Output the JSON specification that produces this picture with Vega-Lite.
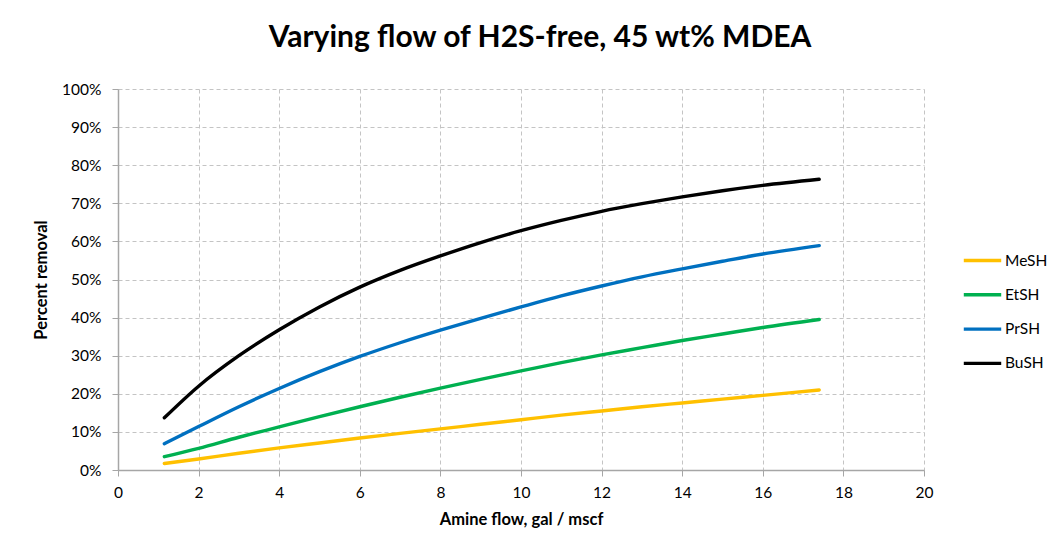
{
  "$schema": "https://vega.github.io/schema/vega-lite/v6.json",
  "autosize": "none",
  "width": 806,
  "height": 381,
  "padding": {"left": 118, "top": 89, "right": 132, "bottom": 83},
  "background": "white",
  "title": {
    "text": "Varying flow of H2S-free, 45 wt% MDEA",
    "font": "Lato",
    "fontSize": 30,
    "fontWeight": "bold",
    "color": "#000000",
    "anchor": "middle",
    "dx": 19,
    "offset": 29
  },
  "config": {
    "view": {"stroke": null},
    "font": "Lato"
  },
  "data": {
    "values": [
      {"flow": 1.15, "removal": 0.017, "compound": "MeSH"},
      {"flow": 2, "removal": 0.029, "compound": "MeSH"},
      {"flow": 3, "removal": 0.044, "compound": "MeSH"},
      {"flow": 4, "removal": 0.058, "compound": "MeSH"},
      {"flow": 5, "removal": 0.071, "compound": "MeSH"},
      {"flow": 6, "removal": 0.084, "compound": "MeSH"},
      {"flow": 7, "removal": 0.096, "compound": "MeSH"},
      {"flow": 8, "removal": 0.108, "compound": "MeSH"},
      {"flow": 9, "removal": 0.120, "compound": "MeSH"},
      {"flow": 10, "removal": 0.132, "compound": "MeSH"},
      {"flow": 11, "removal": 0.144, "compound": "MeSH"},
      {"flow": 12, "removal": 0.155, "compound": "MeSH"},
      {"flow": 13, "removal": 0.166, "compound": "MeSH"},
      {"flow": 14, "removal": 0.176, "compound": "MeSH"},
      {"flow": 15, "removal": 0.186, "compound": "MeSH"},
      {"flow": 16, "removal": 0.196, "compound": "MeSH"},
      {"flow": 17.4, "removal": 0.210, "compound": "MeSH"},
      {"flow": 1.15, "removal": 0.035, "compound": "EtSH"},
      {"flow": 2, "removal": 0.057, "compound": "EtSH"},
      {"flow": 3, "removal": 0.086, "compound": "EtSH"},
      {"flow": 4, "removal": 0.113, "compound": "EtSH"},
      {"flow": 5, "removal": 0.140, "compound": "EtSH"},
      {"flow": 6, "removal": 0.166, "compound": "EtSH"},
      {"flow": 7, "removal": 0.191, "compound": "EtSH"},
      {"flow": 8, "removal": 0.215, "compound": "EtSH"},
      {"flow": 9, "removal": 0.238, "compound": "EtSH"},
      {"flow": 10, "removal": 0.260, "compound": "EtSH"},
      {"flow": 11, "removal": 0.282, "compound": "EtSH"},
      {"flow": 12, "removal": 0.302, "compound": "EtSH"},
      {"flow": 13, "removal": 0.321, "compound": "EtSH"},
      {"flow": 14, "removal": 0.340, "compound": "EtSH"},
      {"flow": 15, "removal": 0.357, "compound": "EtSH"},
      {"flow": 16, "removal": 0.374, "compound": "EtSH"},
      {"flow": 17.4, "removal": 0.395, "compound": "EtSH"},
      {"flow": 1.15, "removal": 0.069, "compound": "PrSH"},
      {"flow": 2, "removal": 0.114, "compound": "PrSH"},
      {"flow": 3, "removal": 0.166, "compound": "PrSH"},
      {"flow": 4, "removal": 0.214, "compound": "PrSH"},
      {"flow": 5, "removal": 0.258, "compound": "PrSH"},
      {"flow": 6, "removal": 0.298, "compound": "PrSH"},
      {"flow": 7, "removal": 0.334, "compound": "PrSH"},
      {"flow": 8, "removal": 0.367, "compound": "PrSH"},
      {"flow": 9, "removal": 0.398, "compound": "PrSH"},
      {"flow": 10, "removal": 0.428, "compound": "PrSH"},
      {"flow": 11, "removal": 0.457, "compound": "PrSH"},
      {"flow": 12, "removal": 0.483, "compound": "PrSH"},
      {"flow": 13, "removal": 0.507, "compound": "PrSH"},
      {"flow": 14, "removal": 0.528, "compound": "PrSH"},
      {"flow": 15, "removal": 0.548, "compound": "PrSH"},
      {"flow": 16, "removal": 0.567, "compound": "PrSH"},
      {"flow": 17.4, "removal": 0.589, "compound": "PrSH"},
      {"flow": 1.15, "removal": 0.137, "compound": "BuSH"},
      {"flow": 2, "removal": 0.220, "compound": "BuSH"},
      {"flow": 3, "removal": 0.300, "compound": "BuSH"},
      {"flow": 4, "removal": 0.368, "compound": "BuSH"},
      {"flow": 5, "removal": 0.428, "compound": "BuSH"},
      {"flow": 6, "removal": 0.480, "compound": "BuSH"},
      {"flow": 7, "removal": 0.524, "compound": "BuSH"},
      {"flow": 8, "removal": 0.562, "compound": "BuSH"},
      {"flow": 9, "removal": 0.597, "compound": "BuSH"},
      {"flow": 10, "removal": 0.628, "compound": "BuSH"},
      {"flow": 11, "removal": 0.655, "compound": "BuSH"},
      {"flow": 12, "removal": 0.679, "compound": "BuSH"},
      {"flow": 13, "removal": 0.699, "compound": "BuSH"},
      {"flow": 14, "removal": 0.717, "compound": "BuSH"},
      {"flow": 15, "removal": 0.733, "compound": "BuSH"},
      {"flow": 16, "removal": 0.747, "compound": "BuSH"},
      {"flow": 17.4, "removal": 0.763, "compound": "BuSH"}
    ]
  },
  "mark": {"type": "line", "interpolate": "monotone", "strokeWidth": 3.4, "strokeCap": "round"},
  "encoding": {
    "x": {
      "field": "flow",
      "type": "quantitative",
      "scale": {"domain": [0, 20], "nice": false, "zero": false},
      "axis": {
        "title": "Amine flow, gal / mscf",
        "titleFont": "Lato",
        "titleFontSize": 16.5,
        "titleFontWeight": "bold",
        "titleColor": "#000000",
        "titlePadding": 11,
        "values": [0, 2, 4, 6, 8, 10, 12, 14, 16, 18, 20],
        "labelFlush": false,
        "labelFont": "Lato",
        "labelFontSize": 15.5,
        "labelColor": "#000000",
        "labelPadding": 9,
        "tickColor": "#a6a6a6",
        "tickSize": 6,
        "domainColor": "#a6a6a6",
        "domainWidth": 1.5,
        "grid": true,
        "gridColor": "#c4c4c4",
        "gridDash": [4, 3],
        "gridWidth": 1
      }
    },
    "y": {
      "field": "removal",
      "type": "quantitative",
      "scale": {"domain": [0, 1], "nice": false},
      "axis": {
        "title": "Percent removal",
        "titleFont": "Lato",
        "titleFontSize": 16.5,
        "titleFontWeight": "bold",
        "titleColor": "#000000",
        "titlePadding": 12,
        "format": ".0%",
        "values": [0, 0.1, 0.2, 0.3, 0.4, 0.5, 0.6, 0.7, 0.8, 0.9, 1],
        "labelFont": "Lato",
        "labelFontSize": 15.5,
        "labelColor": "#000000",
        "labelPadding": 11,
        "tickColor": "#a6a6a6",
        "tickSize": 6,
        "domainColor": "#a6a6a6",
        "domainWidth": 1.5,
        "grid": true,
        "gridColor": "#c4c4c4",
        "gridDash": [4, 3],
        "gridWidth": 1
      }
    },
    "color": {
      "field": "compound",
      "type": "nominal",
      "scale": {
        "domain": ["MeSH", "EtSH", "PrSH", "BuSH"],
        "range": ["#FFC000", "#00B050", "#0070C0", "#000000"]
      },
      "legend": {
        "title": null,
        "orient": "none",
        "legendX": 844,
        "legendY": 151,
        "symbolType": "stroke",
        "symbolSize": 1400,
        "symbolStrokeWidth": 3.4,
        "labelFont": "Lato",
        "labelFontSize": 15.5,
        "labelColor": "#000000",
        "labelOffset": 2,
        "rowPadding": 5.3
      }
    }
  }
}
